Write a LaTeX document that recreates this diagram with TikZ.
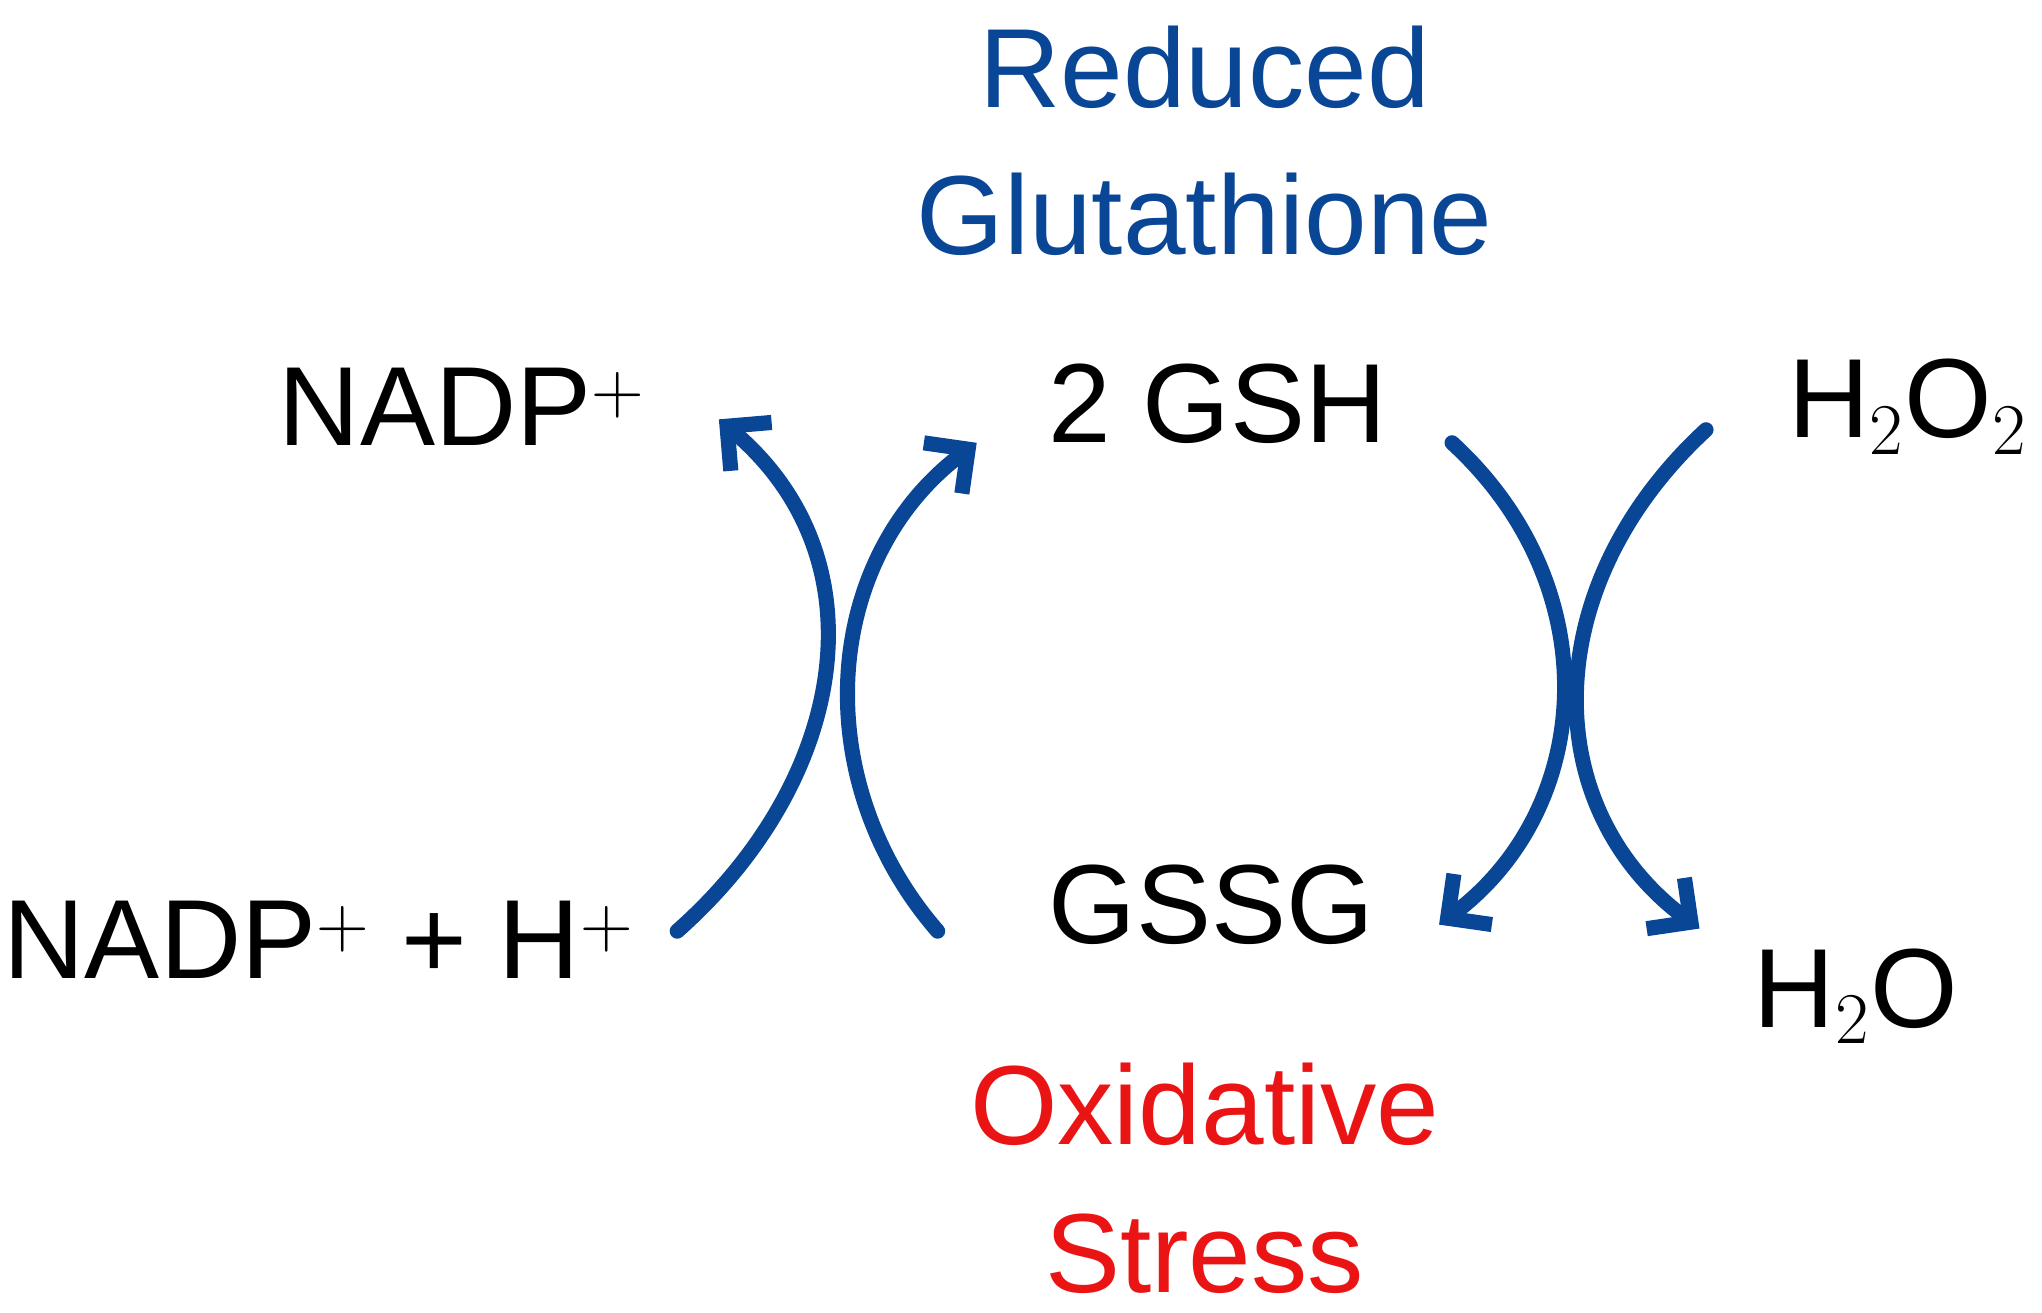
\documentclass[tikz,border=0pt]{standalone}
\usepackage{fontspec}
\setmainfont{Liberation Sans}
\usetikzlibrary{arrows.meta}
\definecolor{gblue}{RGB}{10,70,150}
\definecolor{gred}{RGB}{235,20,20}
\begin{document}
\begin{tikzpicture}[x=0.01302cm,y=-0.01302cm,
    lbl/.style={font=\fontsize{32}{38}\selectfont, inner sep=0pt},
    flow/.style={gblue, line width=4.3pt, line cap=round,
      -{Straight Barb[length=9pt,width=18pt,line width=4.3pt]}}]
    \useasboundingbox (0,0) rectangle (1568,1008);
    % Define nodes
    \node[lbl, gblue, align=center] (red) at (925,108) {Reduced\\[4pt]Glutathione};
    \node[lbl] (nadp) at (355,312) {NADP$^{\scriptstyle +}$};
    \node[lbl] (gsh) at (935,310) {2 GSH};
    \node[lbl] (hoo) at (1465,312) {H$_2$O$_2$};
    \node[lbl] (nadph) at (245,722) {NADP$^{\scriptstyle +}$ + H$^{\scriptstyle +}$};
    \node[lbl] (gssg) at (930,695) {GSSG};
    \node[lbl] (water) at (1425,765) {H$_2$O};
    \node[lbl, gred, align=center] (ox) at (925,905) {Oxidative\\[4pt]Stress};

    \coordinate (l1s) at (520,715);
    \coordinate (l1e) at (552,322);
    \coordinate (l2s) at (720,715);
    \coordinate (l2e) at (750,340);
    \coordinate (r1s) at (1115,340);
    \coordinate (r1e) at (1105,710);
    \coordinate (r2s) at (1310,330);
    \coordinate (r2e) at (1305,713);

    % Draw arrows
    \draw[flow] (l1s) .. controls (650,600) and (680,430) .. (l1e);
    \draw[flow] (l2s) .. controls (620,600) and (630,430) .. (l2e);
    \draw[flow] (r1s) .. controls (1235,450) and (1225,620) .. (r1e);
    \draw[flow] (r2s) .. controls (1180,450) and (1180,620) .. (r2e);
\end{tikzpicture}
\end{document}
